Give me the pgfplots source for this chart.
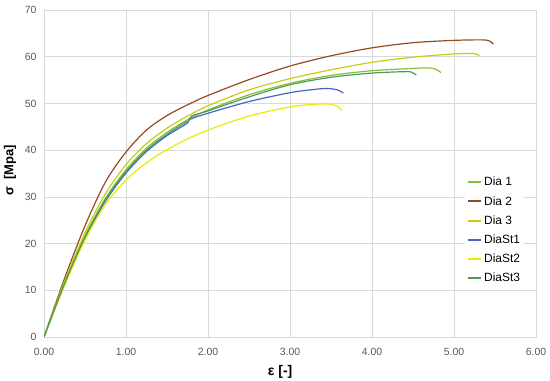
\documentclass[border=0pt]{standalone}
\usepackage{pgfplots}
\pgfplotsset{compat=1.18}
\usepackage{fontspec}
\setmainfont{Liberation Sans}
\definecolor{gridgray}{RGB}{217,217,217}
\definecolor{tickgray}{RGB}{89,89,89}
\definecolor{cDiaA}{RGB}{135,190,55}
\definecolor{cDiaB}{RGB}{150,75,30}
\definecolor{cDiaC}{RGB}{200,205,20}
\definecolor{cStA}{RGB}{70,100,200}
\definecolor{cStB}{RGB}{235,235,0}
\definecolor{cStC}{RGB}{75,155,90}
\begin{document}
\begin{tikzpicture}
\begin{axis}[
  scale only axis, width=492bp, height=327bp,
  xmin=0, xmax=6, ymin=0, ymax=70,
  xtick={0,1,2,3,4,5,6}, ytick={0,10,20,30,40,50,60,70},
  grid=major, major grid style={draw=gridgray, line width=0.7bp},
  axis line style={draw=gridgray, line width=0.7bp},
  major tick length=0pt, tick style={draw=none},
  /pgf/number format/assume math mode=true,
  tick label style={font=\fontsize{10.5}{12}\selectfont, text=tickgray},
  xticklabel style={/pgf/number format/.cd, fixed, fixed zerofill, precision=2, /tikz/.cd, yshift=-8bp},
  yticklabel style={xshift=-4bp},
  xlabel={ε [-]}, ylabel={σ\ \ [Mpa]},
  xlabel style={font=\fontsize{14}{16}\selectfont\bfseries, at={(axis description cs:0.48,0)}, anchor=center, yshift=-35bp},
  ylabel style={font=\fontsize{13}{15}\selectfont\bfseries, at={(axis description cs:-0.069,0.51)}, anchor=center},
  legend style={at={(axis description cs:0.8557,0.5015)}, anchor=north west, draw=none, fill=white,
    font=\fontsize{12}{14}\selectfont, row sep=5bp, inner xsep=2bp, inner ysep=2bp},
  legend cell align=left,
  legend image code/.code={\draw[#1, line width=2bp] (0bp,0bp) -- (13bp,0bp);},
  every axis plot/.append style={line width=1.2bp, smooth},
]
% Dia 1
\addplot[color=cDiaA] coordinates {(0,0) (0.25,11.5) (0.5,21.6) (0.75,29.7) (1,35.8) (1.25,40.4) (1.5,43.8) (1.75,46.5) (2,48.6) (2.5,51.85) (3,54.3) (3.5,56.0) (4,57.0) (4.5,57.5) (4.7,57.6) (4.78,57.3) (4.84,56.6)};
\addlegendentry{Dia 1}
% Dia 2
\addplot[color=cDiaB] coordinates {(0,0) (0.25,12.5) (0.5,23.8) (0.75,33.2) (1,39.6) (1.25,44.3) (1.5,47.4) (1.75,49.7) (2,51.7) (2.5,55.1) (3,58.0) (3.5,60.2) (4,61.9) (4.5,63.0) (5,63.5) (5.35,63.6) (5.44,63.3) (5.48,62.7)};
\addlegendentry{Dia 2}
% Dia 3
\addplot[color=cDiaC] coordinates {(0,0) (0.25,11.9) (0.5,22.3) (0.75,30.7) (1,36.9) (1.25,41.4) (1.5,44.7) (1.75,47.3) (2,49.5) (2.5,52.9) (3,55.3) (3.5,57.2) (4,58.8) (4.5,59.9) (5,60.6) (5.2,60.7) (5.27,60.6) (5.31,60.2)};
\addlegendentry{Dia 3}
% DiaSt1
\addplot[color=cStA] coordinates {(0,0) (0.25,11.3) (0.5,21.2) (0.75,29.1) (1,35.1) (1.25,39.7) (1.5,43.1) (1.74,45.7) (1.78,46.6) (2,47.9) (2.5,50.4) (3,52.3) (3.3,53.0) (3.45,53.2) (3.58,52.9) (3.65,52.2)};
\addlegendentry{DiaSt1}
% DiaSt2
\addplot[color=cStB] coordinates {(0,0) (0.25,11.0) (0.5,20.75) (0.75,28.4) (1,33.6) (1.25,37.3) (1.5,40.1) (1.75,42.4) (2,44.3) (2.5,47.3) (3,49.25) (3.25,49.75) (3.45,49.9) (3.55,49.6) (3.6,49.1) (3.63,48.5)};
\addlegendentry{DiaSt2}
% DiaSt3
\addplot[color=cStC] coordinates {(0,0) (0.25,11.4) (0.5,21.4) (0.75,29.4) (1,35.4) (1.25,40.0) (1.5,43.4) (1.72,45.9) (1.76,46.2) (1.8,47.3) (2,48.4) (2.5,51.4) (3,54.0) (3.5,55.6) (4,56.5) (4.4,56.8) (4.48,56.7) (4.54,56.1)};
\addlegendentry{DiaSt3}
\end{axis}
\pgfresetboundingbox
\path (-44bp,-44bp) rectangle (506bp,337bp);
\end{tikzpicture}
\end{document}
